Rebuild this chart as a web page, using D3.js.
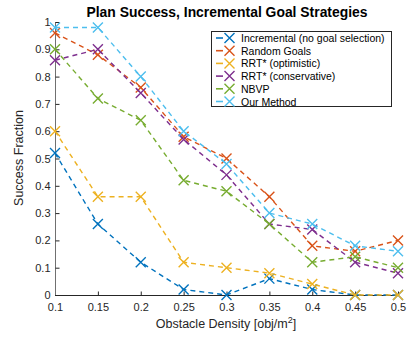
<!DOCTYPE html>
<html><head><meta charset="utf-8">
<script src="https://cdn.jsdelivr.net/npm/d3@7"></script>
<style>body{margin:0;background:#fff}svg{display:block;font-family:"Liberation Sans",Arial,sans-serif}</style>
</head><body>
<script>
const densities = [0.1,0.15,0.2,0.25,0.3,0.35,0.4,0.45,0.5];
const seriesNames = ["Incremental (no goal selection)","Random Goals","RRT* (optimistic)","RRT* (conservative)","NBVP","Our Method"];
const seriesColors = ["#0072BD","#D95319","#EDB120","#7E2F8E","#77AC30","#4DBEEE"];
const incremental  = [0.52,0.26,0.12,0.02,0.00,0.06,0.02,0.00,0.00];
const randomGoals  = [0.96,0.88,0.76,0.58,0.50,0.36,0.18,0.16,0.20];
const rrtOpt       = [0.60,0.36,0.36,0.12,0.10,0.08,0.04,0.00,0.00];
const rrtCons      = [0.86,0.90,0.74,0.57,0.44,0.26,0.24,0.12,0.08];
const nbvp         = [0.90,0.72,0.64,0.42,0.38,0.26,0.12,0.14,0.10];
const ourMethod    = [0.98,0.98,0.80,0.60,0.48,0.30,0.26,0.18,0.16];
const xTicks = [0.1,0.15,0.2,0.25,0.3,0.35,0.4,0.45,0.5];
const yTicks = [0,0.1,0.2,0.3,0.4,0.5,0.6,0.7,0.8,0.9,1];
const allSeries = [incremental,randomGoals,rrtOpt,rrtCons,nbvp,ourMethod];

const W=408,H=337;
const svg=d3.select("body").append("svg").attr("width",W).attr("height",H);
const x=d3.scaleLinear().domain([0.1,0.5]).range([55,398]);
const y=d3.scaleLinear().domain([0,1]).range([295,22]);

// axes
const xAxis=d3.axisBottom(x).tickValues(xTicks).tickSize(-4).tickPadding(8).tickFormat(d=>d3.format("")(+d.toFixed(2)));
const yAxis=d3.axisLeft(y).tickValues(yTicks).tickSize(-4).tickPadding(5).tickFormat(d=>d3.format("")(+d.toFixed(1)));
const gx=svg.append("g").attr("transform","translate(0,295.5)").call(xAxis);
const gy=svg.append("g").attr("transform","translate(55.5,0)").call(yAxis);
[gx,gy].forEach(g=>{
  g.select(".domain").attr("stroke","#262626").attr("d", g===gx? "M55,0H398":"M0,22V295");
  g.selectAll(".tick line").attr("stroke","#262626");
  g.selectAll(".tick text").attr("fill","#262626").style("font-size","11px").style("font-family","Liberation Sans, Arial, sans-serif");
});
gy.select(".domain").attr("stroke","#707070");

// lines
const line=d3.line().x((d,i)=>x(densities[i])).y(d=>y(d));
allSeries.forEach((s,k)=>{
  const g=svg.append("g");
  g.append("path").datum(s).attr("d",line).attr("fill","none").attr("stroke",seriesColors[k])
    .attr("stroke-width",1.4).attr("stroke-dasharray","5,4");
  g.selectAll("path.m").data(s).join("path").attr("class","m")
    .attr("d",(d,i)=>{const cx=x(densities[i]),cy=y(d),r=5;return `M${cx-r},${cy-r}L${cx+r},${cy+r}M${cx-r},${cy+r}L${cx+r},${cy-r}`;})
    .attr("stroke",seriesColors[k]).attr("stroke-width",1.4).attr("fill","none");
});

// title
svg.append("text").attr("x",227).attr("y",17).attr("text-anchor","middle")
  .style("font-weight","bold").style("font-size","13.9px").attr("fill","#000")
  .text("Plan Success, Incremental Goal Strategies");
// x label
const xl=svg.append("text").attr("x",226).attr("y",328).attr("text-anchor","middle").style("font-size","12.5px").attr("fill","#262626");
xl.append("tspan").text("Obstacle Density [obj/m");
xl.append("tspan").attr("dy",-5).style("font-size","9px").text("2");
xl.append("tspan").attr("dy",5).text("]");
// y label
svg.append("text").attr("transform","translate(23,158) rotate(-90)").attr("text-anchor","middle")
  .style("font-size","12.5px").attr("fill","#262626").text("Success Fraction");

// legend
const lg=svg.append("g");
lg.append("rect").attr("x",211.5).attr("y",31.5).attr("width",180).attr("height",75)
  .attr("fill","#fff").attr("stroke","#262626").attr("stroke-width",1);
seriesNames.forEach((n,k)=>{
  const yy=38+k*12.7;
  lg.append("line").attr("x1",216).attr("x2",223).attr("y1",yy).attr("y2",yy)
    .attr("stroke",seriesColors[k]).attr("stroke-width",1.6);
  lg.append("path").attr("d",`M${229.5-5},${yy-5}L${229.5+5},${yy+5}M${229.5-5},${yy+5}L${229.5+5},${yy-5}`)
    .attr("stroke",seriesColors[k]).attr("stroke-width",1.4);
  lg.append("text").attr("x",241).attr("y",yy+4).style("font-size","10.5px").attr("fill","#000").text(n);
});
</script>
</body></html>
